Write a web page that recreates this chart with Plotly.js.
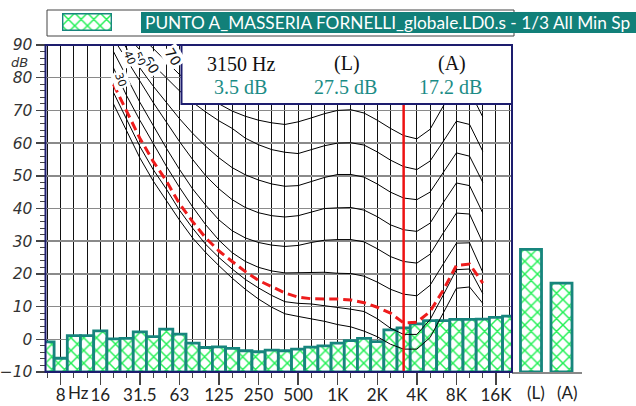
<!DOCTYPE html>
<html><head><meta charset="utf-8">
<script src="https://cdn.plot.ly/plotly-3.0.1.min.js"></script>
<style>html,body{margin:0;padding:0;background:#fff}#chart{width:636px;height:406px}</style>
</head><body><div id="chart"></div>
<script>
// ---- data ----
const bandLabels = ['6.3','8','10','12.5','16','20','25','31.5','40','50','63','80','100','125','160','200','250','315','400','500','630','800','1K','1.25K','1.6K','2K','2.5K','3.15K','4K','5K','6.3K','8K','10K','12.5K','16K','20K'];
const spectrumDb = [-0.8,-5.8,1.1,1.1,2.6,0.1,0.3,2.3,0.8,3.1,1.6,-1.2,-2.5,-2.3,-2.8,-3.5,-3.8,-3.3,-3.5,-3.0,-2.4,-2.0,-1.2,-0.4,0.3,-0.7,2.9,3.5,4.7,5.7,5.7,6.1,6.1,6.2,6.7,7.1];
const tickBands = ['8','16','31.5','63','125','250','500','1K','2K','4K','8K','16K'];
const tickLabels = ['8','16','31.5','63','125','250','500','1K','2K','4K','8K','16K'];
const totalLabels = ['(L)','(A)'];
const totalDb = [27.5,17.2];
const cursorBand = '3.15K';
const cursorHz = '3150 Hz';
const seriesName = 'PUNTO A_MASSERIA FORNELLI_globale.LD0.s - 1/3 All Min Sp';
// equal loudness contours, 20 Hz .. 12.5 kHz
const contourBands = ['20','25','31.5','40','50','63','80','100','125','160','200','250','315','400','500','630','800','1K','1.25K','1.6K','2K','2.5K','3.15K','4K','5K','6.3K','8K','10K','12.5K'];
const phon70 = [101,97,93,89,85,81,78,75,72,69.8,68.2,67,66.2,65.7,66.5,67.7,69,70,70.2,69.2,67,64.5,62.3,61.3,64.2,71.3,77,76,68];
const phon60 = [97,93,88.5,84,80,76,72.5,69.5,66.8,64.5,61.5,59.5,58,57.2,56.8,58,59.2,60,60.1,59.4,57.3,54.8,52.8,51.9,54.5,60.5,66.7,65.7,57.5];
const phon50 = [95,89,83,77.5,72.5,67.5,63,59,55.5,52.5,50.3,48.7,47.5,46.8,47,48.3,49.5,50.4,50.4,49.6,47.5,45,43.2,42.7,45,51,57,56,48];
const phon40 = [92,85.5,79,72.5,66.5,60.5,55,50,46,42.7,40.3,38.7,37.8,37.4,37.8,39,40,40.2,40.3,39.5,37.5,35,33.5,33,35.5,41.8,47.8,47,38.6];
const phon30 = [88,80,72.5,65.5,58.5,52,46,41,36.5,33.2,31,29.6,28.8,28.4,28.7,29.6,30.3,30.5,30.5,29.8,27.7,25.3,23.8,23.3,26,32.5,38.6,38.3,29.5];
const phon20 = [83,74.5,67,60,53,46.5,40.5,35,30.3,26.5,23.8,22,20.9,20.3,20.3,20.5,20.5,20.2,20.1,19.3,17.5,15.3,13.8,13.3,16.5,23,29.4,29.5,20.5];
const phon10 = [75.5,67,59,52,46,39.5,34,29,25,21.5,18.3,15.7,13.4,11.5,11,10.8,10.3,9.7,9.2,8.5,6.3,3.4,1.5,1.5,6,13.5,21.3,21.5,14];
const threshold = [72,63.5,55.5,48.5,42.5,36.5,31,26.5,22.5,18.7,15.3,12.3,9.8,7.8,7,6.3,5.5,4.5,3.8,2.5,0.8,-1.5,-3,-3,0.5,8,15.6,16,11];
const loudnessCurve = [78,69.5,61.5,54.5,48.5,41.5,36,31,27,23.8,20.7,18,16,14.2,12.9,12.4,12.3,12.3,12,11.2,9.8,8,5,5.2,8.5,15,22.6,23,17.2];
const contourNames = ['70','60','50','40','30','20','10','0'];

// ---- helpers ----
const W = 636, H = 406;
const px = x => x / W;
const py = y => 1 - y / H;
const idx = b => bandLabels.indexOf(b);
const cx = contourBands.map(idx);

const teal = '#17857d', green = '#22f055', navy = '#1d1d6e';
const barMarker = {
  color: 'white',
  line: {color: teal, width: 2.8},
  pattern: {shape: 'x', fgcolor: green, bgcolor: 'white', size: 9, solidity: 0.3}
};

const traces = [];
[phon70, phon60, phon50, phon40, phon30, phon20, phon10, threshold].forEach((c, i) => {
  traces.push({x: cx, y: c, type: 'scatter', mode: 'lines', name: contourNames[i] + ' phon',
    line: {color: '#000', width: 1}, hoverinfo: 'skip'});
});
traces.push({x: cx, y: loudnessCurve, type: 'scatter', mode: 'lines', name: 'loudness',
  line: {color: '#ee1c1c', width: 3, dash: '9px,5px'}});
traces.push({x: bandLabels.map(idx), y: spectrumDb.map(v => v + 10), base: -10, type: 'bar',
  width: 1, marker: barMarker, name: seriesName});
traces.push({x: [idx(cursorBand), idx(cursorBand)], y: [-10, 90], type: 'scatter', mode: 'lines',
  line: {color: '#ee1111', width: 2.5}, name: 'cursor'});
traces.push({x: totalLabels, y: totalDb.map(v => v + 10), base: -10, type: 'bar', width: 0.69,
  marker: barMarker, xaxis: 'x2', yaxis: 'y2', name: 'totals'});
traces.push({x: [0], y: [1], type: 'bar', width: 1, marker: barMarker, xaxis: 'x3', yaxis: 'y3', name: 'swatch'});

const bandPx = 13.19;
const leftEdge = 45.5, rightEdge = 512, firstTickPx = 60.7;
const x0 = idx('8') - (firstTickPx - leftEdge) / bandPx;
const x1 = idx('8') + (rightEdge - firstTickPx) / bandPx;

const tickFont = {family: 'Lato, "Open Sans", sans-serif', size: 17, color: '#222'};
const serif = '"Liberation Serif", serif';
function ann(x, y, text, font, extra) {
  return Object.assign({xref: 'paper', yref: 'paper', x: px(x), y: py(y), xanchor: 'center', yanchor: 'middle',
    showarrow: false, text: text, font: font}, extra || {});
}
const lblFont = {family: 'DejaVu Sans, sans-serif', size: 14, color: '#111'};
const smallLbl = Object.assign({}, lblFont, {size: 11});
const layout = {
  width: W, height: H, margin: {l: 0, r: 0, t: 0, b: 0},
  paper_bgcolor: 'white', plot_bgcolor: 'white', showlegend: false,
  xaxis: {
    domain: [px(leftEdge), px(rightEdge)], range: [x0, x1], fixedrange: true,
    tickmode: 'array', tickvals: tickBands.map(idx), ticktext: tickLabels,
    ticks: 'outside', ticklen: 12, tickwidth: 1.5, tickcolor: '#444', tickfont: tickFont,
    ticklabelstandoff: -4,
    showgrid: true, gridcolor: '#111', gridwidth: 1, zeroline: false, showline: false,
    minor: {tickmode: 'array', tickvals: bandLabels.map(idx), ticks: 'outside', ticklen: 5,
      tickwidth: 1, tickcolor: '#444', showgrid: true, gridcolor: '#111', gridwidth: 1}
  },
  yaxis: {
    domain: [py(372), py(45)], range: [-10, 90], fixedrange: true, tickmode: 'linear', tick0: 0, dtick: 10,
    ticks: 'outside', ticklen: 9, tickwidth: 1.5, tickcolor: '#444',
    tickfont: {family: 'DejaVu Sans, sans-serif', size: 15.5, style: 'italic', color: '#333'},
    showgrid: true, gridcolor: '#8a8a8a', gridwidth: 1.5, zeroline: false, showline: false,
    minor: {dtick: 2, ticks: 'outside', ticklen: 5, tickwidth: 1, tickcolor: '#444', showgrid: false}
  },
  xaxis2: {
    domain: [px(rightEdge), px(582)], anchor: 'y2', type: 'category', range: [-0.623, 1.672],
    fixedrange: true, showgrid: false, zeroline: false, showline: true, linecolor: '#888', linewidth: 1.5,
    ticks: '', showticklabels: false
  },
  yaxis2: {domain: [py(372), py(45)], anchor: 'x2', range: [-10, 90], visible: false, fixedrange: true},
  xaxis3: {domain: [px(62), px(112)], anchor: 'y3', range: [-0.5, 0.5], visible: false, fixedrange: true},
  yaxis3: {domain: [py(31), py(13)], anchor: 'x3', range: [0, 1], visible: false, fixedrange: true},
  bargap: 0,
  shapes: [
    {type: 'rect', xref: 'x domain', yref: 'y domain', x0: 0, x1: 1, y0: 0, y1: 1,
      line: {color: navy, width: 2}, layer: 'above'},
    {type: 'rect', xref: 'paper', yref: 'paper', x0: px(181.5), x1: px(512), y0: py(104), y1: py(45),
      line: {color: navy, width: 2}, fillcolor: 'white', layer: 'above'},
    {type: 'rect', xref: 'paper', yref: 'paper', x0: px(47), x1: px(514), y0: py(36), y1: py(10),
      line: {color: '#444', width: 1}, fillcolor: 'white', layer: 'below'},
    {type: 'rect', xref: 'paper', yref: 'paper', x0: px(141), x1: px(640), y0: py(33), y1: py(12),
      line: {width: 0}, fillcolor: '#128079', layer: 'below'}
  ],
  annotations: [
    ann(143, 22.5, seriesName, {family: 'Lato, "Open Sans", sans-serif', size: 17.3, color: 'white'}, {xanchor: 'left'}),
    ann(19, 62, 'dB', {family: 'DejaVu Sans, sans-serif', size: 13, style: 'italic', color: '#333'}),
    ann(78, 392, 'Hz', tickFont),
    ann(535.5, 392, totalLabels[0], tickFont),
    ann(567, 392, totalLabels[1], tickFont),
    ann(241, 63.5, cursorHz, {family: serif, size: 20, color: '#111'}),
    ann(240, 87.5, spectrumDb[idx(cursorBand)].toFixed(1) + ' dB', {family: serif, size: 20, color: '#1b8c86'}),
    ann(346.5, 63.5, totalLabels[0], {family: serif, size: 20, color: '#111'}),
    ann(345.5, 87.5, totalDb[0].toFixed(1) + ' dB', {family: serif, size: 20, color: '#1b8c86'}),
    ann(451.5, 63.5, totalLabels[1], {family: serif, size: 20, color: '#111'}),
    ann(450.5, 87.5, totalDb[1].toFixed(1) + ' dB', {family: serif, size: 20, color: '#1b8c86'}),
    ann(173, 57, contourNames[0], lblFont, {textangle: 58, bgcolor: 'white'}),
    ann(151, 65, contourNames[1], lblFont, {textangle: 58, bgcolor: 'white'}),
    ann(139, 59, contourNames[2], smallLbl, {textangle: 65, bgcolor: 'white'}),
    ann(129, 58, contourNames[3], smallLbl, {textangle: 68, bgcolor: 'white'}),
    ann(120, 80, contourNames[4], smallLbl, {textangle: 70, bgcolor: 'white'})
  ]
};
Plotly.newPlot('chart', traces, layout, {staticPlot: true});
</script></body></html>
